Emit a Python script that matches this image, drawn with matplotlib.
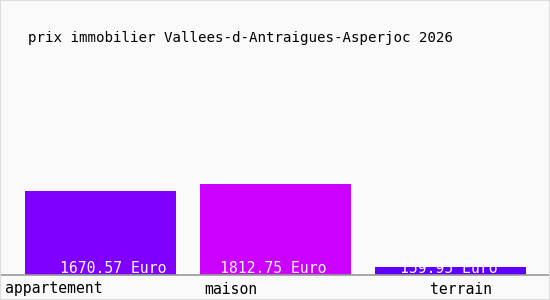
import matplotlib
matplotlib.use("Agg")
import matplotlib.pyplot as plt
from matplotlib.patches import Rectangle

# data
categories = ['appartement', 'maison', 'terrain']
prices = [1670.57, 1812.75, 159.95]
bar_colors = ['#7f00ff', '#cc00ff', '#5f00ff']
title = 'prix immobilier Vallees-d-Antraigues-Asperjoc 2026'

W, H = 550, 300
fig = plt.figure(figsize=(W / 100, H / 100), dpi=100, facecolor='#fafafa')
fig.patches.append(Rectangle((0, 0), 1, 1, transform=fig.transFigure, fill=False,
                             edgecolor='#dcdcdc', linewidth=1.5))

font = 'DejaVu Sans Mono'

# axes: bottom sits on the baseline (y=275 px from top)
ax = fig.add_axes([0, 25 / H, 1, 250 / H])
ax.set_facecolor('none')
ax.set_xlim(0, W)
ax.set_ylim(0, 250 / 0.0503)
ax.axis('off')

centers = [100.5, 275.5, 450.5]
ax.bar(centers, prices, width=151, color=bar_colors, zorder=2)
ax.axhline(0, color='#999999', linewidth=1.2, zorder=3, clip_on=False)

# value labels inside the bars (left edges in px)
val_left = [60, 220, 400]
for x, p in zip(val_left, prices):
    ax.annotate(f'{p:.2f} Euro', xy=(x, 0), xytext=(0, 2), textcoords='offset pixels',
                ha='left', va='baseline', color='white', fontsize=10.6,
                family=font, zorder=4)

# category labels under the baseline
lab_left = [5, 204, 430]
for x, c in zip(lab_left, categories):
    fig.text(x / W, 1 - 289 / H, c, ha='left', va='center', fontsize=10.6,
             family=font, color='black')

fig.text(28 / W, 1 - 38 / H, title, ha='left', va='center', fontsize=10.2,
         family=font, color='black')

fig.savefig('out.png', dpi=100, facecolor=fig.get_facecolor())
